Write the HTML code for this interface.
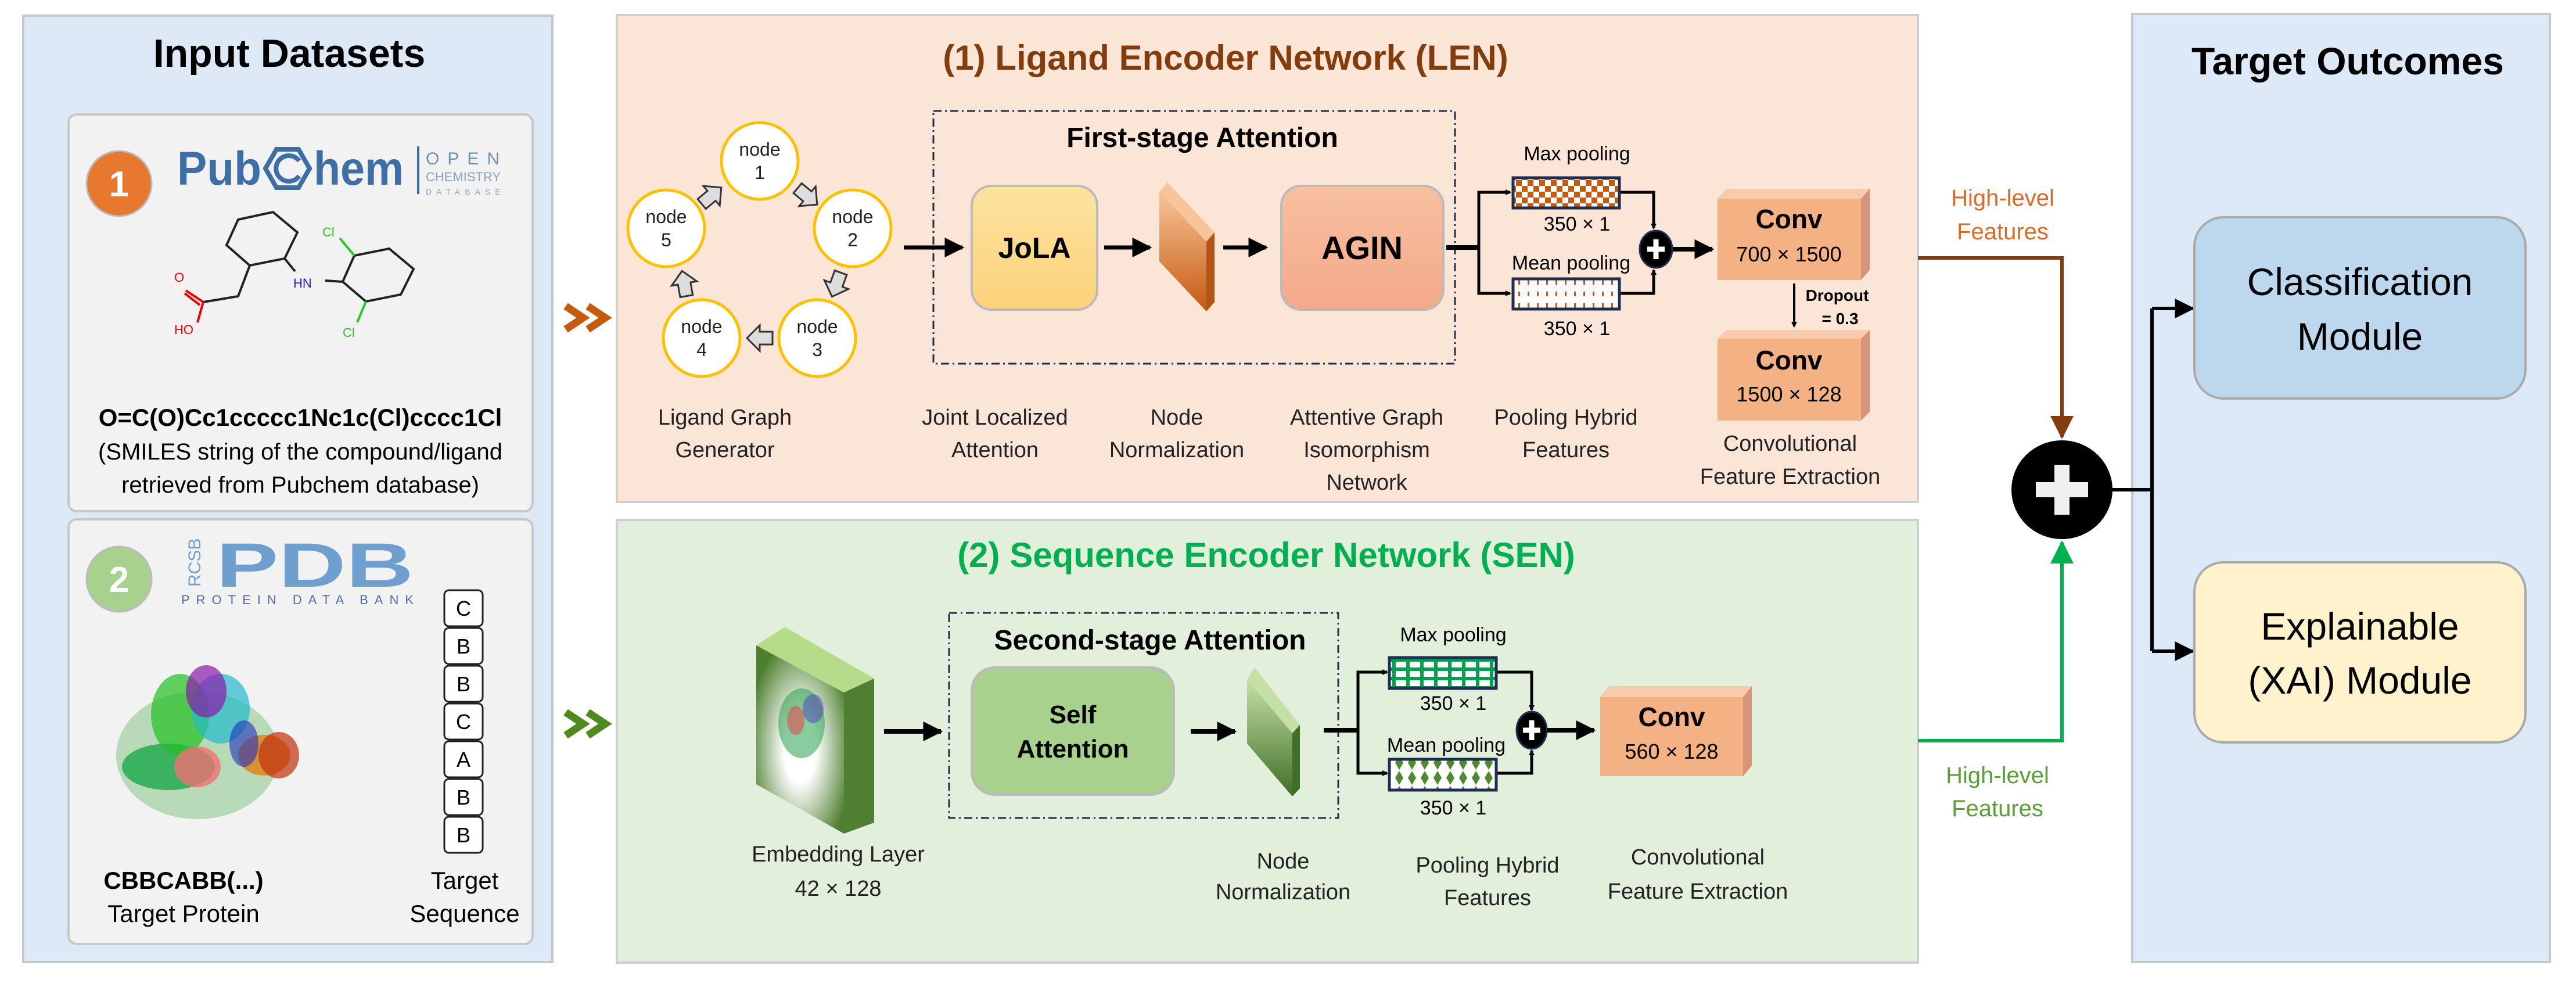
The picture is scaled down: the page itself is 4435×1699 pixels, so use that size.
<!DOCTYPE html>
<html><head><meta charset="utf-8"><style>
html,body{margin:0;padding:0;background:#fff;}
svg{display:block;}
text{font-family:"Liberation Sans",sans-serif;}
</style></head><body>
<svg width="4435" height="1699" viewBox="0 0 4435 1699" xmlns="http://www.w3.org/2000/svg">
<defs>
<marker id="ab" markerWidth="10" markerHeight="10" refX="8" refY="5" orient="auto" markerUnits="userSpaceOnUse" viewBox="0 0 10 10"><path d="M0,0 L10,5 L0,10 z" fill="#000"/></marker>
<marker id="abig" viewBox="0 0 10 10" refX="9" refY="5" markerWidth="34" markerHeight="34" orient="auto" markerUnits="userSpaceOnUse"><path d="M0,0 L10,5 L0,10 z" fill="#000"/></marker>
<marker id="abr" viewBox="0 0 10 10" refX="9" refY="5" markerWidth="40" markerHeight="40" orient="auto" markerUnits="userSpaceOnUse"><path d="M0,0 L10,5 L0,10 z" fill="#843c0c"/></marker>
<marker id="agr" viewBox="0 0 10 10" refX="9" refY="5" markerWidth="40" markerHeight="40" orient="auto" markerUnits="userSpaceOnUse"><path d="M0,0 L10,5 L0,10 z" fill="#00b050"/></marker>
<linearGradient id="gY" x1="0" y1="0" x2="0" y2="1"><stop offset="0" stop-color="#fde3a0"/><stop offset="1" stop-color="#fcd27a"/></linearGradient>
<linearGradient id="gS" x1="0" y1="0" x2="0" y2="1"><stop offset="0" stop-color="#f7c0a0"/><stop offset="1" stop-color="#f3a98a"/></linearGradient>
<linearGradient id="gO" x1="0" y1="0" x2="0" y2="1"><stop offset="0" stop-color="#f8c49a"/><stop offset="1" stop-color="#c55a11"/></linearGradient>
<linearGradient id="gG" x1="0" y1="0" x2="0" y2="1"><stop offset="0" stop-color="#c5e0a5"/><stop offset="1" stop-color="#3f6e26"/></linearGradient>
<radialGradient id="gE" cx="0.5" cy="0.55" r="0.6"><stop offset="0.3" stop-color="#ffffff"/><stop offset="1" stop-color="#4d7f2f"/></radialGradient>
<pattern id="chk" width="20" height="20" patternUnits="userSpaceOnUse"><rect width="20" height="20" fill="#fff"/><rect width="10" height="10" fill="#c55a11"/><rect x="10" y="10" width="10" height="10" fill="#c55a11"/></pattern>
<pattern id="dsh" width="16" height="20" patternUnits="userSpaceOnUse"><rect width="16" height="20" fill="#fff"/><rect x="6" y="2" width="3" height="8" fill="#c55a11"/></pattern>
<pattern id="brk" width="24" height="16" patternUnits="userSpaceOnUse"><rect width="24" height="16" fill="#00a050"/><rect x="3" y="3" width="18" height="10" fill="#fff"/></pattern>
<pattern id="dia" width="22" height="26" patternUnits="userSpaceOnUse"><rect width="22" height="26" fill="#fff"/><path d="M11,1 L18,13 L11,25 L4,13z" fill="#4f8a2e"/></pattern>
</defs>

<!-- Input panel -->
<rect x="40" y="27" width="911" height="1629" fill="#dde9f6" stroke="#c0c8d0" stroke-width="4"/>
<text x="498" y="115" font-size="68" font-weight="bold" text-anchor="middle">Input Datasets</text>
<rect x="118" y="197" width="799" height="683" rx="14" fill="#f2f2f2" stroke="#c8c8c8" stroke-width="4"/>
<rect x="118" y="894" width="799" height="731" rx="14" fill="#f2f2f2" stroke="#c8c8c8" stroke-width="4"/>
<circle cx="205" cy="316" r="56" fill="#e8782f" stroke="#bbb" stroke-width="3"/>
<text x="205" y="338" font-size="62" font-weight="bold" fill="#fff" text-anchor="middle">1</text>
<text x="305" y="318" font-size="82" font-weight="bold" fill="#3d6fa6" textLength="145" lengthAdjust="spacingAndGlyphs">Pub</text>
<g transform="translate(495,290)"><polygon points="-38,0 -19,-33 19,-33 38,0 19,33 -19,33" fill="none" stroke="#3d6fa6" stroke-width="8"/><path d="M20,-13 A22,22 0 1 0 20,13" fill="none" stroke="#3d6fa6" stroke-width="8"/></g>
<text x="540" y="318" font-size="82" font-weight="bold" fill="#3d6fa6" textLength="155" lengthAdjust="spacingAndGlyphs">hem</text>
<rect x="718" y="252" width="4" height="82" fill="#3d6fa6"/>
<text x="733" y="283" font-size="30" fill="#6f8fb5" letter-spacing="14">OPEN</text>
<text x="733" y="312" font-size="22" fill="#8aa3c2">CHEMISTRY</text>
<text x="733" y="335" font-size="14" fill="#8aa3c2" letter-spacing="8">DATABASE</text>
<!-- molecule -->
<g transform="translate(0,45)">
<g fill="none" stroke="#222" stroke-width="4">
<polygon points="410,333 470,320 512,355 490,400 430,412 390,377"/>
<polygon points="610,395 670,383 712,418 690,462 630,474 590,440"/>
<path d="M430,412 L410,465 L350,475"/>
<path d="M490,400 L508,422"/>
<path d="M560,438 L590,440"/>
</g>
<path d="M350,475 L340,510" stroke="#e00" stroke-width="4"/><path d="M350,475 L320,455 M344,480 L318,460" stroke="#e00" stroke-width="4"/>
<path d="M610,395 L585,365" stroke="#2c2" stroke-width="4"/><path d="M630,474 L615,510" stroke="#2c2" stroke-width="4"/>
<text x="300" y="440" font-size="22" fill="#e00">O</text><text x="300" y="530" font-size="22" fill="#e00">HO</text>
<text x="505" y="450" font-size="22" fill="#22d">HN</text>
<text x="555" y="362" font-size="22" fill="#2c2">Cl</text><text x="590" y="535" font-size="22" fill="#2c2">Cl</text>
</g>
<text x="517" y="733" font-size="42" font-weight="bold" text-anchor="middle">O=C(O)Cc1ccccc1Nc1c(Cl)cccc1Cl</text>
<text x="517" y="791" font-size="40" text-anchor="middle">(SMILES string of the compound/ligand</text>
<text x="517" y="848" font-size="40" text-anchor="middle">retrieved from Pubchem database)</text>
<!-- box 2 -->
<circle cx="205" cy="997" r="56" fill="#a9d18e" stroke="#bbb" stroke-width="3"/>
<text x="205" y="1019" font-size="62" font-weight="bold" fill="#fff" text-anchor="middle">2</text>
<text x="372" y="1010" font-size="108" font-weight="bold" fill="#6f9fcf" textLength="340" lengthAdjust="spacingAndGlyphs">PDB</text>
<text x="345" y="1010" font-size="30" fill="#6f9fcf" transform="rotate(-90 345 1010)">RCSB</text>
<text x="312" y="1040" font-size="22" fill="#4f6f9f" textLength="400">PROTEIN DATA BANK</text>
<g>
<ellipse cx="340" cy="1300" rx="140" ry="110" fill="#4caf50" opacity="0.35"/>
<ellipse cx="290" cy="1320" rx="80" ry="40" fill="#1aa84a" opacity="0.8"/>
<ellipse cx="310" cy="1230" rx="50" ry="70" fill="#22c022" opacity="0.7"/>
<ellipse cx="380" cy="1220" rx="50" ry="60" fill="#22bbcc" opacity="0.7"/>
<ellipse cx="355" cy="1190" rx="35" ry="45" fill="#8a1aaa" opacity="0.7"/>
<ellipse cx="340" cy="1320" rx="40" ry="35" fill="#f07070" opacity="0.8"/>
<ellipse cx="455" cy="1300" rx="45" ry="35" fill="#e08010" opacity="0.8"/>
<ellipse cx="480" cy="1300" rx="35" ry="40" fill="#c03010" opacity="0.7"/>
<ellipse cx="420" cy="1280" rx="25" ry="40" fill="#2030c0" opacity="0.6"/>
</g>
<g fill="#fff" stroke="#222" stroke-width="3">
<rect x="765" y="1016" width="66" height="62" rx="8"/><rect x="765" y="1081" width="66" height="62" rx="8"/><rect x="765" y="1146" width="66" height="62" rx="8"/><rect x="765" y="1211" width="66" height="62" rx="8"/><rect x="765" y="1276" width="66" height="62" rx="8"/><rect x="765" y="1341" width="66" height="62" rx="8"/><rect x="765" y="1406" width="66" height="62" rx="8"/>
</g>
<g font-size="36" text-anchor="middle"><text x="798" y="1060">C</text><text x="798" y="1125">B</text><text x="798" y="1190">B</text><text x="798" y="1255">C</text><text x="798" y="1320">A</text><text x="798" y="1385">B</text><text x="798" y="1450">B</text></g>
<text x="316" y="1530" font-size="42" font-weight="bold" text-anchor="middle">CBBCABB(...)</text>
<text x="316" y="1587" font-size="42" text-anchor="middle">Target Protein</text>
<text x="800" y="1530" font-size="42" text-anchor="middle">Target</text>
<text x="800" y="1587" font-size="42" text-anchor="middle">Sequence</text>
<!-- chevrons -->
<path d="M974,527 L1004,547 L974,567 M1012,527 L1042,547 L1012,567" fill="none" stroke="#c55a11" stroke-width="13"/>
<path d="M974,1226 L1004,1246 L974,1266 M1012,1226 L1042,1246 L1012,1266" fill="none" stroke="#4e8a1e" stroke-width="13"/>

<!-- LEN panel -->
<rect x="1062" y="26" width="2240" height="838" fill="#fbe5d6" stroke="#cfcfcf" stroke-width="4"/>
<text x="2110" y="120" font-size="60" font-weight="bold" fill="#843c0c" text-anchor="middle">(1) Ligand Encoder Network (LEN)</text>
<rect x="1607" y="191" width="898" height="435" fill="none" stroke="#1f2d50" stroke-width="3" stroke-dasharray="14,6,3,6"/>
<text x="2070" y="253" font-size="48" font-weight="bold" text-anchor="middle">First-stage Attention</text>
<g fill="#fff" stroke="#ffc000" stroke-width="5">
<circle cx="1308" cy="277" r="66"/><circle cx="1468" cy="393" r="66"/><circle cx="1407" cy="582" r="66"/><circle cx="1208" cy="582" r="66"/><circle cx="1147" cy="393" r="66"/>
</g>
<g font-size="32" text-anchor="middle" fill="#222">
<text x="1308" y="268">node</text><text x="1308" y="308">1</text>
<text x="1468" y="384">node</text><text x="1468" y="424">2</text>
<text x="1407" y="573">node</text><text x="1407" y="613">3</text>
<text x="1208" y="573">node</text><text x="1208" y="613">4</text>
<text x="1147" y="384">node</text><text x="1147" y="424">5</text>
</g>
<g fill="#ddd" stroke="#333" stroke-width="3">
<polygon points="-22,-11 0,-11 0,-22 22,0 0,22 0,11 -22,11" transform="translate(1390,338) rotate(40)"/>
<polygon points="-22,-11 0,-11 0,-22 22,0 0,22 0,11 -22,11" transform="translate(1440,490) rotate(110)"/>
<polygon points="-22,-11 0,-11 0,-22 22,0 0,22 0,11 -22,11" transform="translate(1308,582) rotate(180)"/>
<polygon points="-22,-11 0,-11 0,-22 22,0 0,22 0,11 -22,11" transform="translate(1178,488) rotate(-100)"/>
<polygon points="-22,-11 0,-11 0,-22 22,0 0,22 0,11 -22,11" transform="translate(1225,337) rotate(-40)"/>
</g>
<line x1="1556" y1="426" x2="1657" y2="426" stroke="#000" stroke-width="7" marker-end="url(#abig)"/>
<rect x="1673" y="320" width="216" height="213" rx="34" fill="url(#gY)" stroke="#bbb" stroke-width="4"/>
<text x="1781" y="444" font-size="50" font-weight="bold" text-anchor="middle">JoLA</text>
<line x1="1901" y1="426" x2="1980" y2="426" stroke="#000" stroke-width="7" marker-end="url(#abig)"/>
<polygon points="1996,330 2010,314 2091,400 2077,416" fill="#f8c49a"/>
<polygon points="1996,330 2077,416 2077,536 1996,450" fill="url(#gO)"/>
<polygon points="2077,416 2091,400 2091,520 2077,536" fill="#b55515"/>
<line x1="2106" y1="426" x2="2180" y2="426" stroke="#000" stroke-width="7" marker-end="url(#abig)"/>
<rect x="2206" y="320" width="279" height="213" rx="34" fill="url(#gS)" stroke="#bbb" stroke-width="4"/>
<text x="2345" y="446" font-size="56" font-weight="bold" text-anchor="middle">AGIN</text>
<g stroke="#000" stroke-width="5" fill="none">
<line x1="2490" y1="426" x2="2546" y2="426" stroke-width="8"/>
<polyline points="2546,426 2546,331 2600,331" marker-end="url(#ab)"/>
<polyline points="2546,426 2546,505 2600,505" marker-end="url(#ab)"/>
<polyline points="2788,331 2847,331 2847,393" marker-end="url(#ab)"/>
<polyline points="2788,505 2847,505 2847,465" marker-end="url(#ab)"/>
</g>
<rect x="2605" y="306" width="183" height="52" fill="url(#chk)" stroke="#1f2d50" stroke-width="5"/>
<rect x="2605" y="480" width="183" height="52" fill="url(#dsh)" stroke="#1f2d50" stroke-width="5"/>
<g font-size="34" text-anchor="middle"><text x="2715" y="276">Max pooling</text><text x="2715" y="397">350 × 1</text><text x="2705" y="464">Mean pooling</text><text x="2715" y="577">350 × 1</text></g>
<ellipse cx="2851" cy="429" rx="28" ry="32" fill="#000" stroke="#1f2d50" stroke-width="3"/>
<path d="M2851,412 V446 M2836,429 H2866" stroke="#fff" stroke-width="9"/>
<line x1="2880" y1="429" x2="2948" y2="429" stroke="#000" stroke-width="8" marker-end="url(#abig)"/>
<polygon points="2957,342 2972,325 3219,325 3204,342" fill="#f8cbad"/>
<polygon points="3204,342 3219,325 3219,465 3204,482" fill="#d89478"/>
<rect x="2957" y="342" width="247" height="140" fill="#f4b183"/>
<text x="3080" y="393" font-size="46" font-weight="bold" text-anchor="middle">Conv</text>
<text x="3080" y="450" font-size="36" text-anchor="middle">700 × 1500</text>
<line x1="3089" y1="488" x2="3089" y2="562" stroke="#000" stroke-width="4" marker-end="url(#ab)"/>
<text x="3163" y="518" font-size="28" font-weight="bold" text-anchor="middle">Dropout</text>
<text x="3168" y="558" font-size="28" font-weight="bold" text-anchor="middle">= 0.3</text>
<polygon points="2957,583 2972,568 3219,568 3204,583" fill="#f8cbad"/>
<polygon points="3204,583 3219,568 3219,709 3204,724" fill="#d89478"/>
<rect x="2957" y="583" width="247" height="141" fill="#f4b183"/>
<text x="3080" y="636" font-size="46" font-weight="bold" text-anchor="middle">Conv</text>
<text x="3080" y="691" font-size="36" text-anchor="middle">1500 × 128</text>
<g font-size="38" text-anchor="middle" fill="#222">
<text x="1248" y="731">Ligand Graph</text><text x="1248" y="787">Generator</text>
<text x="1713" y="731">Joint Localized</text><text x="1713" y="787">Attention</text>
<text x="2026" y="731">Node</text><text x="2026" y="787">Normalization</text>
<text x="2353" y="731">Attentive Graph</text><text x="2353" y="787">Isomorphism</text><text x="2353" y="843">Network</text>
<text x="2696" y="731">Pooling Hybrid</text><text x="2696" y="787">Features</text>
<text x="3082" y="776">Convolutional</text><text x="3082" y="833">Feature Extraction</text>
</g>

<!-- SEN panel -->
<rect x="1062" y="895" width="2240" height="762" fill="#e2efda" stroke="#cfcfcf" stroke-width="4"/>
<text x="2180" y="976" font-size="60" font-weight="bold" fill="#00b050" text-anchor="middle">(2) Sequence Encoder Network (SEN)</text>
<polygon points="1302,1111 1351,1079 1505,1168 1453,1192" fill="#b5dc8a"/>
<polygon points="1453,1192 1505,1168 1505,1416 1453,1435" fill="#4f7f30"/>
<polygon points="1302,1111 1453,1192 1453,1435 1302,1350" fill="url(#gE)"/>
<ellipse cx="1380" cy="1245" rx="40" ry="60" fill="#2aa050" opacity="0.55"/>
<ellipse cx="1370" cy="1240" rx="15" ry="25" fill="#e05050" opacity="0.6"/>
<ellipse cx="1400" cy="1220" rx="18" ry="25" fill="#5040c0" opacity="0.5"/>
<line x1="1522" y1="1259" x2="1620" y2="1259" stroke="#000" stroke-width="8" marker-end="url(#abig)"/>
<rect x="1634" y="1055" width="670" height="353" fill="none" stroke="#1f2d50" stroke-width="3" stroke-dasharray="14,6,3,6"/>
<text x="1980" y="1118" font-size="48" font-weight="bold" text-anchor="middle">Second-stage Attention</text>
<rect x="1673" y="1149" width="348" height="219" rx="40" fill="#a9d18e" stroke="#bbb" stroke-width="4"/>
<text x="1847" y="1245" font-size="44" font-weight="bold" text-anchor="middle">Self</text>
<text x="1847" y="1304" font-size="44" font-weight="bold" text-anchor="middle">Attention</text>
<line x1="2050" y1="1259" x2="2126" y2="1259" stroke="#000" stroke-width="8" marker-end="url(#abig)"/>
<polygon points="2147,1170 2160,1149 2238,1248 2225,1262" fill="#c5e0a5"/>
<polygon points="2147,1170 2225,1262 2225,1371 2147,1280" fill="url(#gG)"/>
<polygon points="2225,1262 2238,1248 2238,1357 2225,1371" fill="#3f6e26"/>
<g stroke="#000" stroke-width="5" fill="none">
<line x1="2279" y1="1257" x2="2338" y2="1257" stroke-width="8"/>
<polyline points="2338,1257 2338,1157 2388,1157" marker-end="url(#ab)"/>
<polyline points="2338,1257 2338,1331 2388,1331" marker-end="url(#ab)"/>
<polyline points="2576,1157 2637,1157 2637,1222" marker-end="url(#ab)"/>
<polyline points="2576,1331 2637,1331 2637,1292" marker-end="url(#ab)"/>
</g>
<rect x="2392" y="1132" width="184" height="53" fill="url(#brk)" stroke="#1f2d50" stroke-width="5"/>
<rect x="2392" y="1307" width="184" height="53" fill="url(#dia)" stroke="#1f2d50" stroke-width="5"/>
<g font-size="34" text-anchor="middle"><text x="2502" y="1104">Max pooling</text><text x="2502" y="1222">350 × 1</text><text x="2490" y="1294">Mean pooling</text><text x="2502" y="1402">350 × 1</text></g>
<ellipse cx="2637" cy="1257" rx="26" ry="32" fill="#000" stroke="#1f2d50" stroke-width="3"/>
<path d="M2637,1240 V1274 M2622,1257 H2652" stroke="#fff" stroke-width="9"/>
<line x1="2664" y1="1257" x2="2744" y2="1257" stroke="#000" stroke-width="8" marker-end="url(#abig)"/>
<polygon points="2755,1200 2770,1181 3016,1181 3001,1200" fill="#f8cbad"/>
<polygon points="3001,1200 3016,1181 3016,1318 3001,1336" fill="#d89478"/>
<rect x="2755" y="1200" width="246" height="136" fill="#f4b183"/>
<text x="2878" y="1250" font-size="46" font-weight="bold" text-anchor="middle">Conv</text>
<text x="2878" y="1306" font-size="36" text-anchor="middle">560 × 128</text>
<g font-size="38" text-anchor="middle" fill="#222">
<text x="1443" y="1483">Embedding Layer</text><text x="1443" y="1542">42 × 128</text>
<text x="2209" y="1495">Node</text><text x="2209" y="1548">Normalization</text>
<text x="2561" y="1502">Pooling Hybrid</text><text x="2561" y="1558">Features</text>
<text x="2923" y="1488">Convolutional</text><text x="2923" y="1547">Feature Extraction</text>
</g>

<polyline points="3302,444 3550,444 3550,752" fill="none" stroke="#843c0c" stroke-width="6" marker-end="url(#abr)"/>
<polyline points="3302,1275 3550,1275 3550,934" fill="none" stroke="#00b050" stroke-width="6" marker-end="url(#agr)"/>
<g font-size="40" text-anchor="middle" fill="#d86a2a"><text x="3448" y="354">High-level</text><text x="3448" y="412">Features</text></g>
<g font-size="40" text-anchor="middle" fill="#5e9e3a"><text x="3439" y="1348">High-level</text><text x="3439" y="1405">Features</text></g>

<rect x="3671" y="24" width="719" height="1632" fill="#dde9f6" stroke="#c0c8d0" stroke-width="4"/>
<text x="4042" y="128" font-size="66" font-weight="bold" text-anchor="middle">Target Outcomes</text>
<ellipse cx="3550" cy="843" rx="87" ry="85" fill="#000"/>
<path d="M3550,800 V886 M3505,843 H3595" stroke="#f0f0f0" stroke-width="26"/>
<g stroke="#000" stroke-width="6" fill="none">
<polyline points="3615,843 3705,843"/>
<polyline points="3705,531 3705,1121"/>
<line x1="3705" y1="531" x2="3775" y2="531" marker-end="url(#abig)"/>
<line x1="3705" y1="1121" x2="3775" y2="1121" marker-end="url(#abig)"/>
</g>
<rect x="3778" y="374" width="570" height="312" rx="50" fill="#bdd7ee" stroke="#aaa" stroke-width="4"/>
<text x="4063" y="508" font-size="66" text-anchor="middle">Classification</text>
<text x="4063" y="602" font-size="66" text-anchor="middle">Module</text>
<rect x="3778" y="968" width="570" height="310" rx="50" fill="#fff2cc" stroke="#aaa" stroke-width="4"/>
<text x="4063" y="1101" font-size="66" text-anchor="middle">Explainable</text>
<text x="4063" y="1194" font-size="66" text-anchor="middle">(XAI) Module</text>
</svg>
</body></html>
